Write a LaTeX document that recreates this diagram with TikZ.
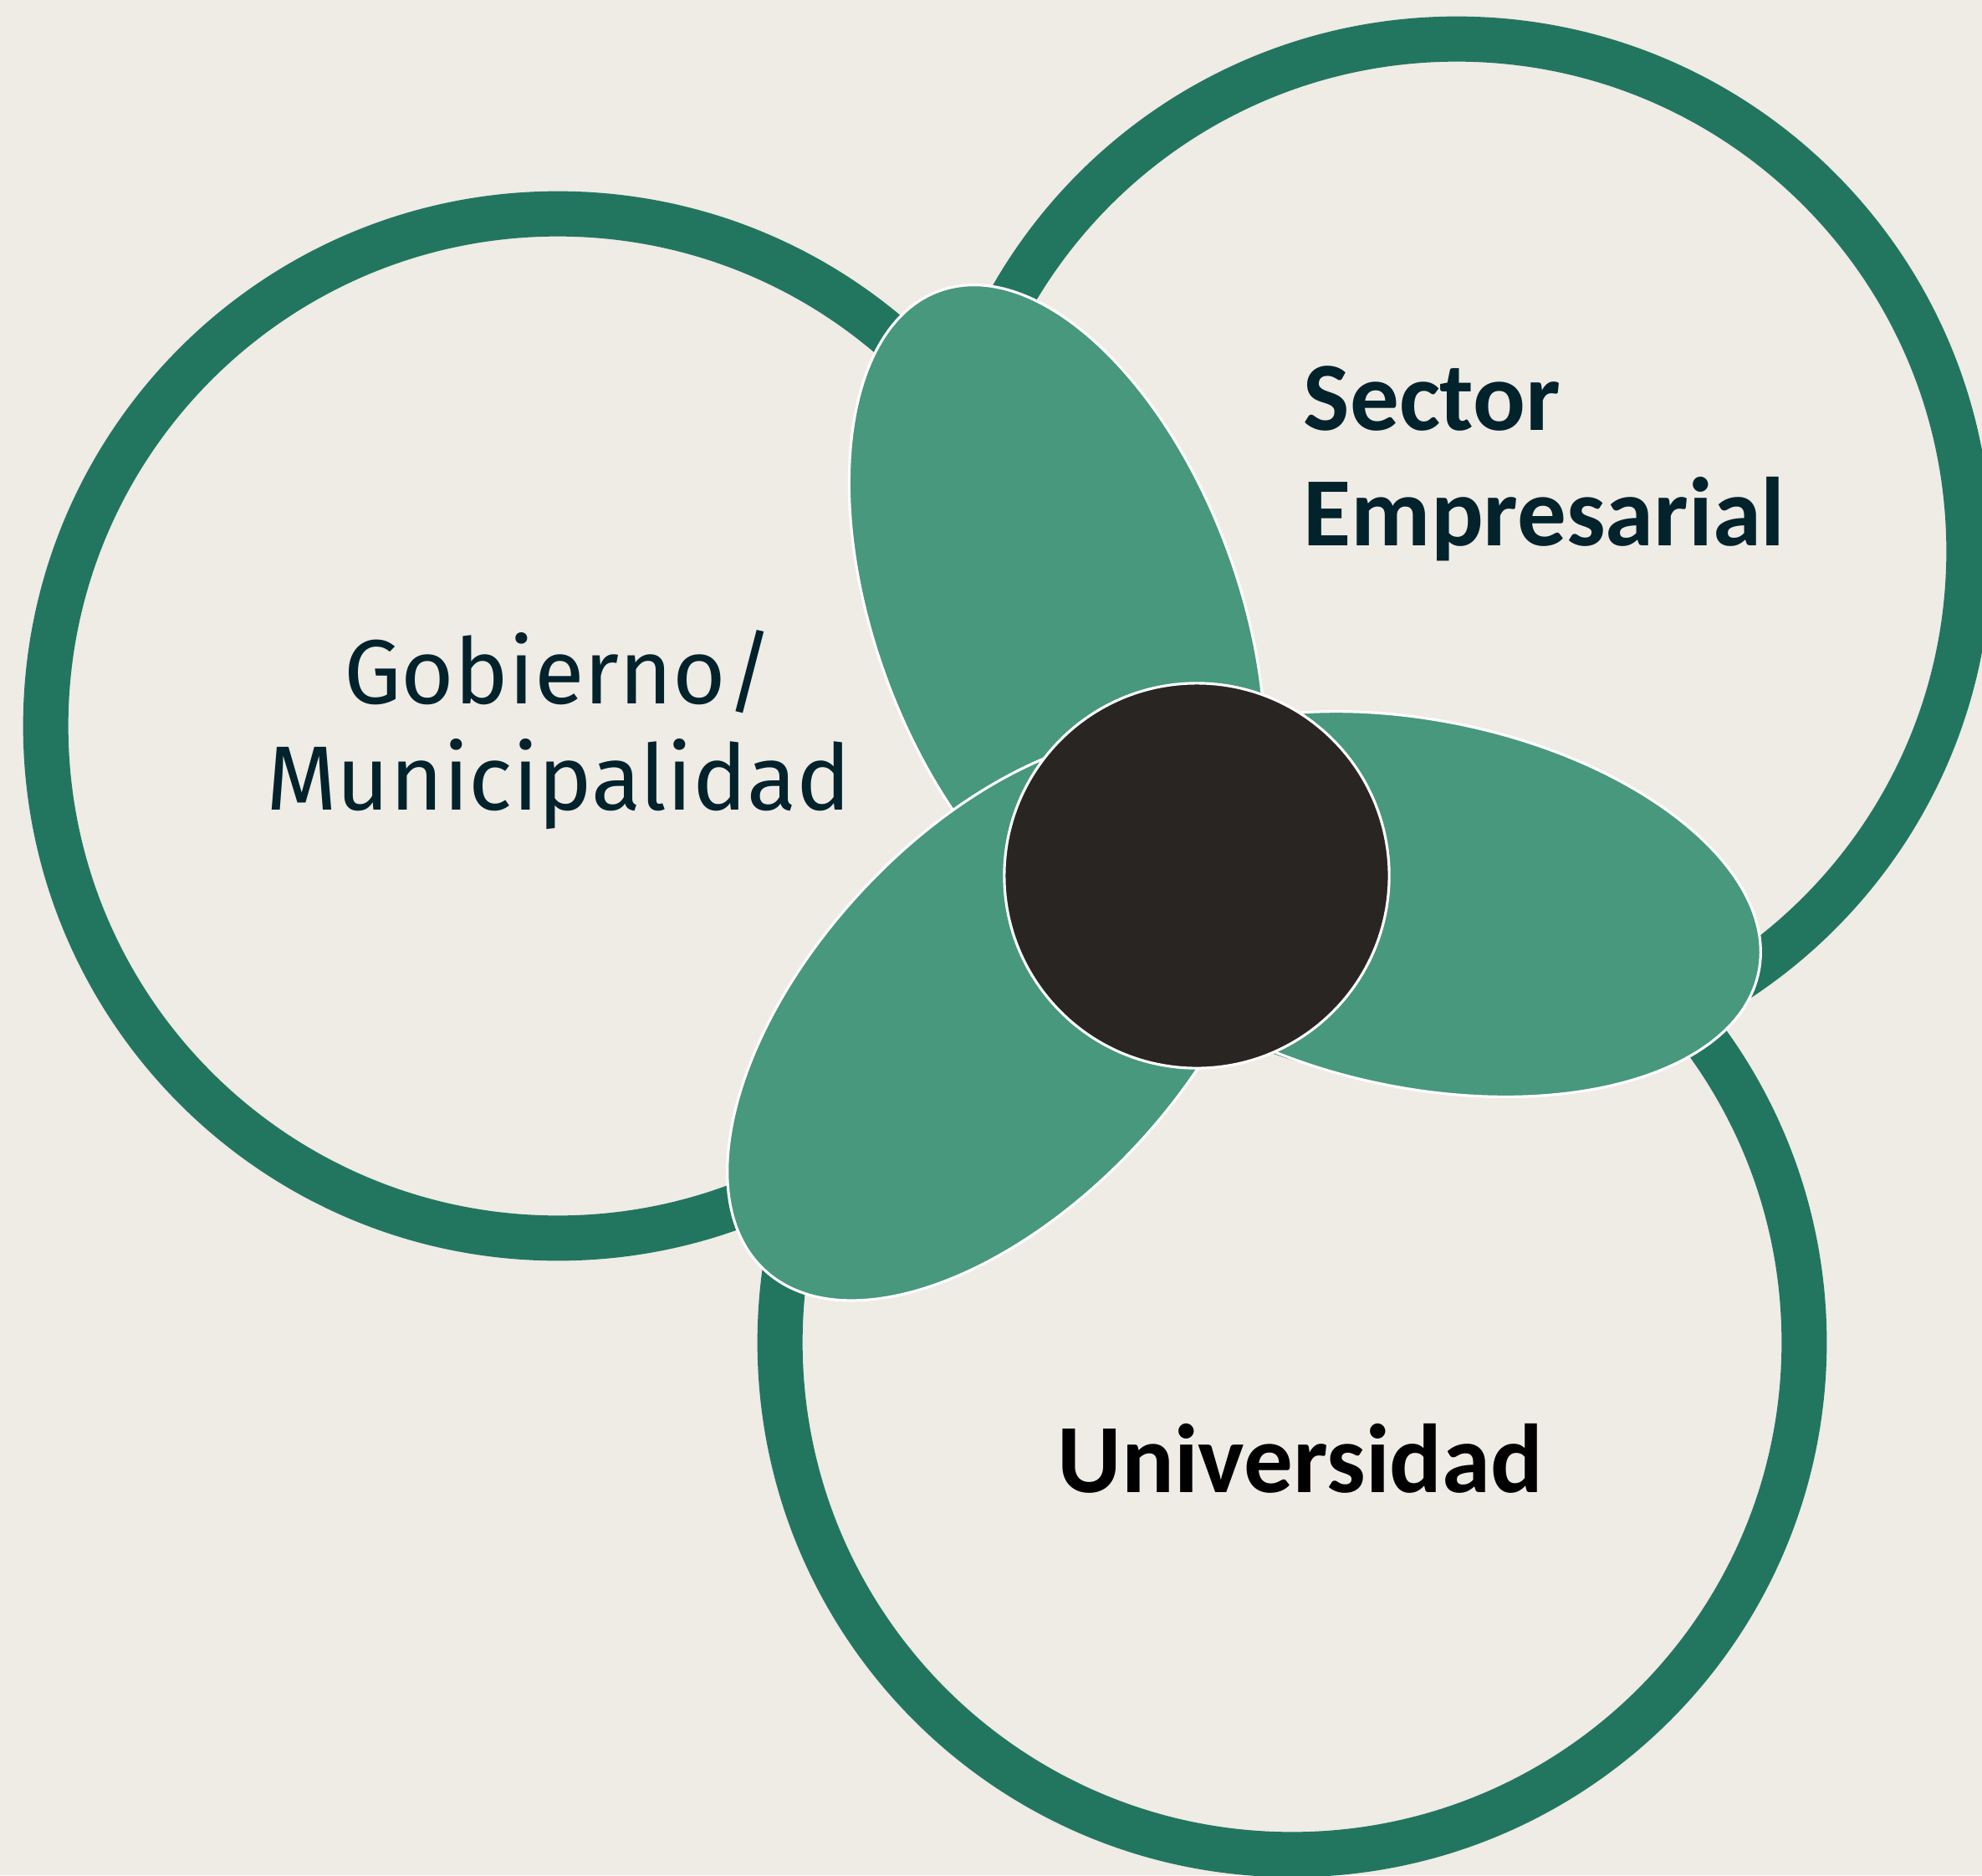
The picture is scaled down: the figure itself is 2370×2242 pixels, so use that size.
\documentclass[tikz,border=0pt]{standalone}
\usepackage{fontspec}
\setmainfont{Carlito}
\newfontfamily\plexfont{Fira Sans}
\usetikzlibrary{shapes.geometric}
\definecolor{bgc}{RGB}{239,235,229}
\definecolor{ringc}{RGB}{34,118,96}
\definecolor{petalc}{RGB}{71,152,125}
\definecolor{hubc}{RGB}{41,37,34}
\definecolor{txtc}{RGB}{2,34,44}
\begin{document}
\begin{tikzpicture}[x=0.01cm,y=-0.01cm,
  ringnode/.style={circle, draw=ringc, line width=15.36pt, minimum size=12.24cm, inner sep=0pt, outer sep=0pt},
  petal/.style={fill=petalc, draw=white, line width=0.9pt},
  hubnode/.style={circle, fill=hubc, draw=white, line width=0.9pt, minimum size=4.6cm, inner sep=0pt, outer sep=0pt},
  gobtext/.style={font=\plexfont\fontsize{31.0}{36.1}\selectfont, text=txtc, align=center, inner sep=0pt},
  sectext/.style={font=\bfseries\fontsize{33.3}{39.2}\selectfont, text=txtc, align=left, inner sep=0pt},
  unitext/.style={font=\bfseries\fontsize{33.3}{39.8}\selectfont, text=black, inner sep=0pt}]
\fill[bgc] (0,0) rectangle (2370,2242);
\useasboundingbox (0,0) rectangle (2370,2242);
\clip (0,0) rectangle (2370,2242);
% rings
\node[ringnode] (gob) at (667,868) {};
\node[ringnode] (sec) at (1742,659) {};
\node[ringnode] (uni) at (1545,1605) {};
% petals
\path[petal, rotate around={-70:(1264,735)}] (1264,735) ellipse [x radius=412, y radius=218];
\path[petal, rotate around={47:(1195,1217)}] (1195,1217) ellipse [x radius=412, y radius=224];
\path[petal, rotate around={-11.3:(1699,1081)}] (1699,1081) ellipse [x radius=412, y radius=220];
% hub
\node[hubnode] (hub) at (1431,1047) {};
% labels
\node[gobtext, anchor=base] (gobl) at (668,968) {Gobierno/\\Municipalidad};
\node[sectext, anchor=base west] (secl) at (1558,652) {Sector\\Empresarial};
\node[unitext, anchor=base] (unil) at (1555,1784) {Universidad};
\end{tikzpicture}
\end{document}
